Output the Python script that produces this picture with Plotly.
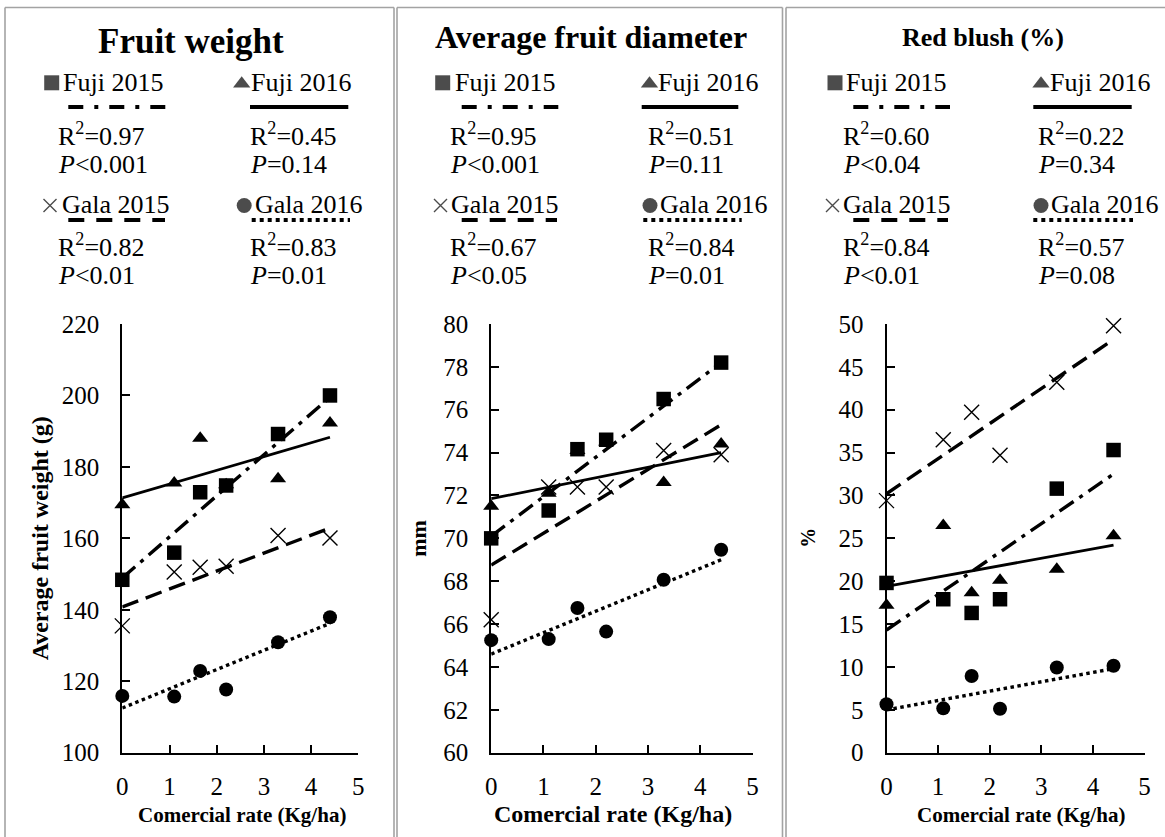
import plotly.graph_objects as go

W, H = 1165, 837

# ---------------- data ----------------
rate = [0, 1.1, 1.65, 2.2, 3.3, 4.4]
series_names = ["Fuji 2015", "Fuji 2016", "Gala 2015", "Gala 2016"]

# Fruit weight (g)
weight_fuji2015 = [148.4, 156.0, 172.9, 174.8, 189.2, 200.0]
weight_fuji2016 = [169.4, 175.5, 188.0, 175.0, 176.7, 192.3]
weight_gala2015 = [135.5, 150.6, 151.9, 152.2, 160.8, 160.1]
weight_gala2016 = [115.9, 115.7, 122.9, 117.7, 130.9, 137.9]
weight_trend_start = [148.9, 171.3, 140.8, 112.5]   # fitted value at rate 0
weight_trend_end = [199.5, 188.3, 162.9, 136.2]     # fitted value at rate 4.4
weight_r2 = ["0.97", "0.45", "0.82", "0.83"]
weight_p = ["&lt;0.001", "=0.14", "&lt;0.01", "=0.01"]

# Average fruit diameter (mm)
diam_fuji2015 = [70.0, 71.3, 74.16, 74.6, 76.5, 78.2]
diam_fuji2016 = [71.5, 72.1, 74.1, 74.5, 72.6, 74.4]
diam_gala2015 = [66.2, 72.4, 72.4, 72.4, 74.1, 73.9]
diam_gala2016 = [65.25, 65.3, 66.75, 65.65, 68.07, 69.47]
diam_trend_start = [70.1, 71.85, 68.75, 64.6]
diam_trend_end = [78.2, 74.0, 75.3, 69.0]
diam_r2 = ["0.95", "0.51", "0.67", "0.84"]
diam_p = ["&lt;0.001", "=0.11", "&lt;0.05", "=0.01"]

# Red blush (%)
blush_fuji2015 = [19.8, 17.9, 16.3, 17.9, 30.8, 35.3]
blush_fuji2016 = [17.2, 26.5, 18.65, 20.1, 21.4, 25.3]
blush_gala2015 = [29.4, 36.5, 39.7, 34.7, 43.2, 49.8]
blush_gala2016 = [5.65, 5.17, 8.95, 5.13, 9.94, 10.14]
blush_trend_start = [14.3, 19.4, 30.2, 5.0]
blush_trend_end = [32.5, 24.2, 48.2, 9.8]
blush_r2 = ["0.60", "0.22", "0.84", "0.57"]
blush_p = ["&lt;0.04", "=0.34", "&lt;0.01", "=0.08"]

trend_rate = [0, 4.4]

panel_titles = ["Fruit weight", "Average fruit diameter", "Red blush (%)"]
y_titles = ["Average fruit weight (g)", "mm", "%"]
x_title = "Comercial rate (Kg/ha)"
y_ranges = [(100, 220, 20), (60, 80, 2), (0, 50, 5)]

panel_data = [
    dict(series=[weight_fuji2015, weight_fuji2016, weight_gala2015, weight_gala2016],
         t0=weight_trend_start, t1=weight_trend_end, r2=weight_r2, p=weight_p),
    dict(series=[diam_fuji2015, diam_fuji2016, diam_gala2015, diam_gala2016],
         t0=diam_trend_start, t1=diam_trend_end, r2=diam_r2, p=diam_p),
    dict(series=[blush_fuji2015, blush_fuji2016, blush_gala2015, blush_gala2016],
         t0=blush_trend_start, t1=blush_trend_end, r2=blush_r2, p=blush_p),
]

# ---------------- styling / layout ----------------
FONT = "Liberation Serif"
symbols = ["square", "triangle-up", "x-thin", "circle"]
msizes = [14.5, 14, 15, 14]
leg_msizes = [15, 15, 13, 15]
plot_dash = ["17px,7px,4px,7px", "solid", "17px,8px", "3.5px,3.5px"]
leg_dash = ["15px,11px,4px,11px", "solid", "16px,12px", "4px,4px"]


def px(x):
    return x / W


def py(y):
    return 1 - y / H


# pixel geometry of each panel
geo = [
    dict(ax0=122.3, ax1=358.3, title_x=191, title_y=41.5, title_size=35,
         glyph_x=[51.7, 241.7, 50.0, 244.2], name_x=[60.8, 249.2, 60.2, 252.5],
         col_stat=[56.3, 248.0],
         leg_lines=[(68.3, 166.7), (250.0, 348.3), (68.3, 165.0), (251.7, 350.0)],
         ytitle_x=40, ytitle_size=24, xtitle_x=242, xtitle_y=815, xtitle_size=21),
    dict(ax0=491.2, ax1=752.5, title_x=591, title_y=37, title_size=32,
         glyph_x=[442.7, 649.5, 440.5, 650.0], name_x=[452.5, 655.8, 449.2, 657.5],
         col_stat=[448.0, 646.3],
         leg_lines=[(461.7, 558.3), (641.7, 738.3), (461.7, 557.0), (643.3, 741.7)],
         ytitle_x=418.5, ytitle_size=22, xtitle_x=613, xtitle_y=814, xtitle_size=24),
    dict(ax0=886.5, ax1=1144.5, title_x=983, title_y=37.5, title_size=26,
         glyph_x=[835.0, 1041.0, 832.5, 1041.0], name_x=[844.2, 1047.5, 840.8, 1049.2],
         col_stat=[841.3, 1036.3],
         leg_lines=[(853.3, 950.0), (1033.3, 1131.7), (853.3, 948.0), (1033.3, 1133.0)],
         ytitle_x=808.5, ytitle_size=20, xtitle_x=1021, xtitle_y=815, xtitle_size=21),
]
PLOT_TOP, PLOT_BOT = 324.0, 752.7
ROW_HEAD = [82.5, 204.5]
ROW_GLYPH = [82.8, 205.5]
ROW_LINE = [107, 220]
ROW_R2 = [134.5, 245.5]
ROW_P = [164, 275.5]

fig = go.Figure()
annotations = []
shapes = []

for i, (pdx, g) in enumerate(zip(panel_data, geo)):
    sfx = "" if i == 0 else str(i + 1)
    xa, ya = "x" + sfx, "y" + sfx
    for k in range(4):
        fig.add_trace(go.Scatter(
            x=rate, y=pdx["series"][k], mode="markers", xaxis=xa, yaxis=ya,
            cliponaxis=False, showlegend=False, name=series_names[k],
            marker=dict(symbol=symbols[k], size=msizes[k], color="black",
                        line=dict(color="black", width=1.4 if k == 2 else 0))))
    for k in range(4):
        fig.add_trace(go.Scatter(
            x=trend_rate, y=[pdx["t0"][k], pdx["t1"][k]], mode="lines",
            xaxis=xa, yaxis=ya, cliponaxis=False, showlegend=False,
            line=dict(color="black", width=3.4 if k != 1 else 2.8, dash=plot_dash[k])))

    lo, hi, dt = y_ranges[i]
    fig.update_layout(**{
        "xaxis" + sfx: dict(domain=[px(g["ax0"]), px(g["ax1"])], range=[0, 5], anchor=ya,
                            tickmode="linear", tick0=0, dtick=1, showline=True,
                            linecolor="black", linewidth=2, ticks="inside", ticklen=8,
                            tickwidth=1.5, tickcolor="black", showgrid=False, zeroline=False,
                            ticklabelstandoff=10, fixedrange=True, automargin=False,
                            tickfont=dict(family=FONT, size=25, color="black")),
        "yaxis" + sfx: dict(domain=[py(PLOT_BOT), py(PLOT_TOP)], range=[lo, hi], anchor=xa,
                            tickmode="linear", tick0=lo, dtick=dt, showline=True,
                            linecolor="black", linewidth=2, ticks="inside", ticklen=8,
                            tickwidth=1.5, tickcolor="black", showgrid=False, zeroline=False,
                            ticklabelstandoff=16, fixedrange=True, automargin=False,
                            tickfont=dict(family=FONT, size=25, color="black")),
    })

    # panel title
    annotations.append(dict(text="<b>%s</b>" % panel_titles[i], x=px(g["title_x"]), y=py(g["title_y"]),
                            xref="paper", yref="paper", xanchor="center", yanchor="middle",
                            showarrow=False, font=dict(family=FONT, size=g["title_size"], color="black")))
    # legend block
    for k in range(4):
        col = k % 2
        row = k // 2
        annotations.append(dict(text=series_names[k],
                                x=px(g["name_x"][k]), y=py(ROW_HEAD[row]),
                                xref="paper", yref="paper", xanchor="left", yanchor="middle",
                                showarrow=False, font=dict(family=FONT, size=26, color="black")))
        annotations.append(dict(text="R<sup>2</sup>=" + pdx["r2"][k],
                                x=px(g["col_stat"][col]), y=py(ROW_R2[row]),
                                xref="paper", yref="paper", xanchor="left", yanchor="middle",
                                showarrow=False, font=dict(family=FONT, size=26, color="black")))
        annotations.append(dict(text="<i>P</i>" + pdx["p"][k],
                                x=px(g["col_stat"][col]), y=py(ROW_P[row]),
                                xref="paper", yref="paper", xanchor="left", yanchor="middle",
                                showarrow=False, font=dict(family=FONT, size=26, color="black")))
        x0, x1 = g["leg_lines"][k]
        shapes.append(dict(type="line", xref="paper", yref="paper",
                           x0=px(x0), x1=px(x1), y0=py(ROW_LINE[row]), y1=py(ROW_LINE[row]),
                           line=dict(color="black", width=4, dash=leg_dash[k])))
    # legend glyphs on a full-page pixel overlay
    fig.add_trace(go.Scatter(
        x=g["glyph_x"], y=[ROW_GLYPH[0], ROW_GLYPH[0] + 1, ROW_GLYPH[1], ROW_GLYPH[1]],
        mode="markers", xaxis="x4", yaxis="y4", cliponaxis=False, showlegend=False,
        hoverinfo="skip",
        marker=dict(symbol=symbols, size=leg_msizes, color="black",
                    line=dict(color="black", width=[0, 0, 1.4, 0]))))
    # axis titles
    annotations.append(dict(text="<b>%s</b>" % y_titles[i], x=px(g["ytitle_x"]),
                            y=py((PLOT_TOP + PLOT_BOT) / 2), xref="paper", yref="paper",
                            xanchor="center", yanchor="middle", textangle=-90, showarrow=False,
                            font=dict(family=FONT, size=g["ytitle_size"], color="black")))
    annotations.append(dict(text="<b>%s</b>" % x_title, x=px(g["xtitle_x"]), y=py(g["xtitle_y"]),
                            xref="paper", yref="paper", xanchor="center", yanchor="middle",
                            showarrow=False,
                            font=dict(family=FONT, size=g["xtitle_size"], color="black")))

# panel frames (each panel is an open box; bottom and far-right run off the page)
BORDER = "#a3a3a3"
TOP = 7.5
segments = [
    (5.0, TOP, 394.0, TOP), (397.0, TOP, 782.5, TOP), (786.0, TOP, 1170.0, TOP),
    (5.0, TOP, 5.0, 845), (394.0, TOP, 394.0, 845), (397.0, TOP, 397.0, 845),
    (782.5, TOP, 782.5, 845), (786.0, TOP, 786.0, 845),
]
for (a, b, c, d) in segments:
    shapes.append(dict(type="line", xref="paper", yref="paper",
                       x0=px(a), y0=py(b), x1=px(c), y1=py(d),
                       line=dict(color=BORDER, width=1.6), layer="below"))

fig.update_layout(
    width=W, height=H, margin=dict(l=0, r=0, t=0, b=0, pad=0),
    paper_bgcolor="white", plot_bgcolor="rgba(0,0,0,0)",
    xaxis4=dict(domain=[0, 1], range=[0, W], visible=False, anchor="y4", fixedrange=True,
                automargin=False),
    yaxis4=dict(domain=[0, 1], range=[H, 0], visible=False, anchor="x4", fixedrange=True,
                automargin=False),
    annotations=annotations, shapes=shapes, showlegend=False)

fig.write_html("out.html",
               post_script="document.body.style.margin='0px';document.body.style.overflow='hidden';")
